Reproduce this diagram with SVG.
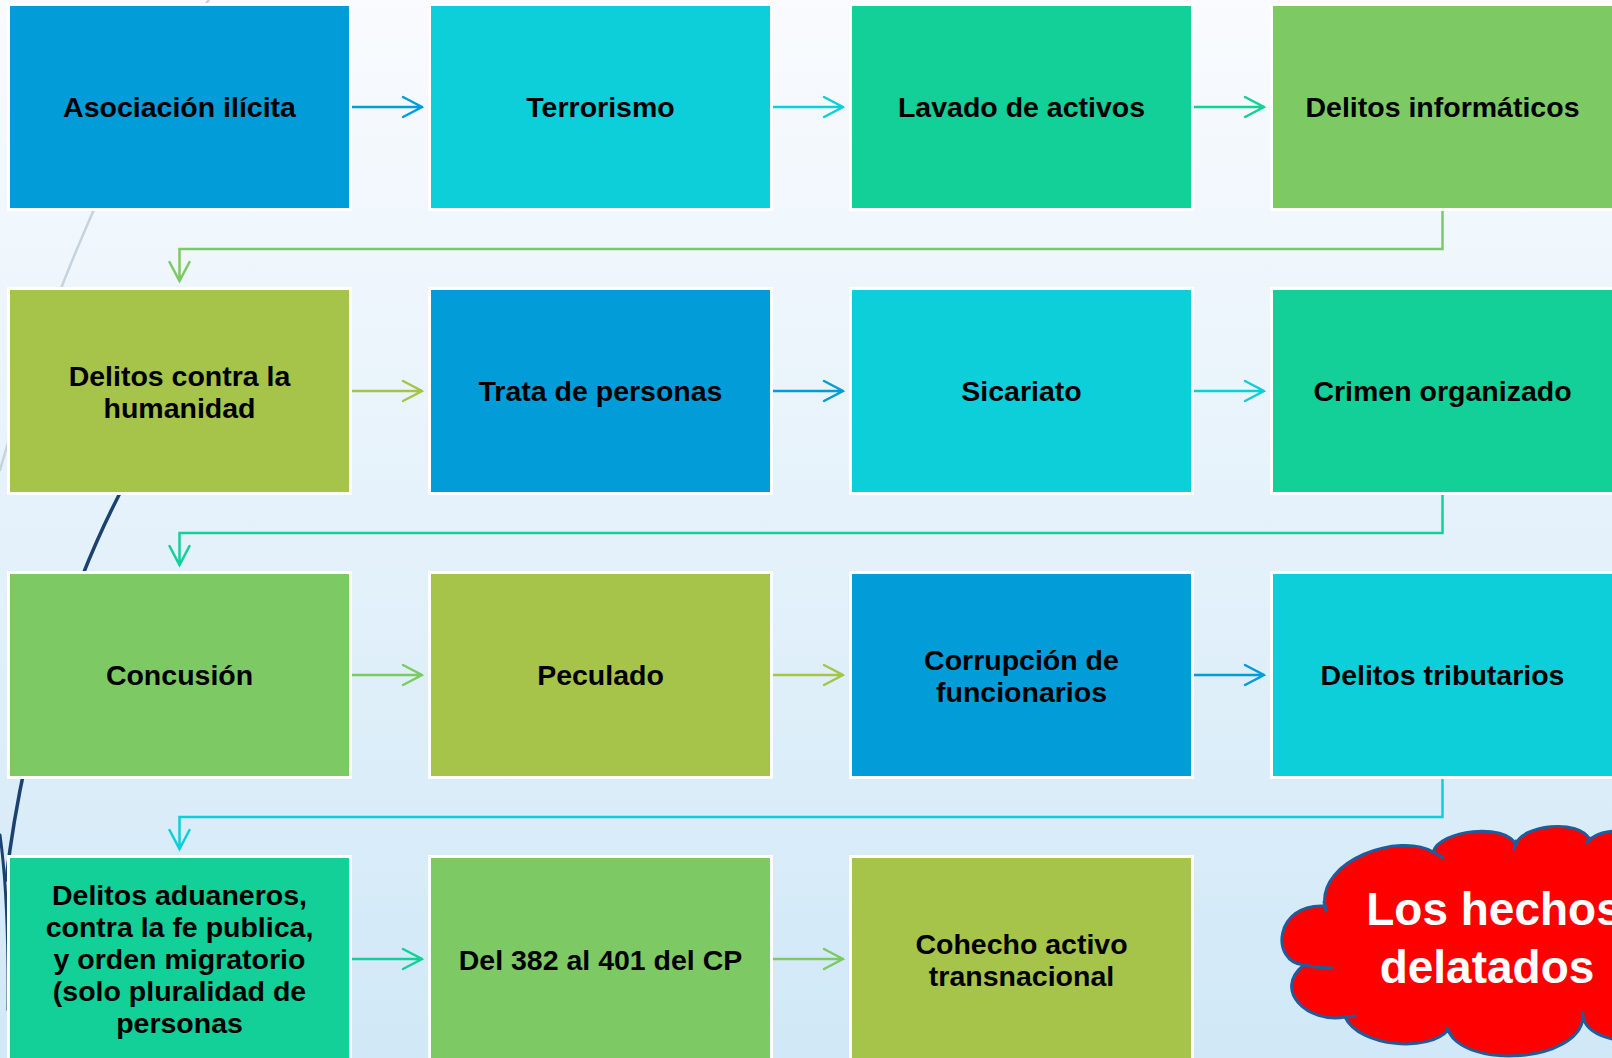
<svg xmlns="http://www.w3.org/2000/svg" width="1612" height="1058" viewBox="0 0 1612 1058">
  <defs>
    <linearGradient id="bg" x1="0" y1="0" x2="0" y2="1">
      <stop offset="0" stop-color="#F9FBFE"/>
      <stop offset="1" stop-color="#D0E8F7"/>
    </linearGradient>
    <style>
      .box { stroke: #FFFFFF; stroke-width: 3; }
      .blue { fill: #029CD8; }
      .cyan { fill: #0DCFDA; }
      .teal { fill: #13CF98; }
      .green { fill: #7DCA64; }
      .olive { fill: #A6C34A; }
      .lbl { font-family: "Liberation Sans", Arial, sans-serif; font-weight: bold; font-size: 28.5px; fill: #000000; text-anchor: middle; }
      .conn { fill: none; stroke-width: 2.5; stroke-linecap: round; stroke-linejoin: miter; }
      .s-blue { stroke: #029CD8; }
      .s-cyan { stroke: #0DCFDA; }
      .s-teal { stroke: #13CF98; }
      .s-green { stroke: #7DCA64; }
      .s-olive { stroke: #A6C34A; }
      .cloudtxt { font-family: "Liberation Sans", Arial, sans-serif; font-weight: bold; font-size: 46px; fill: #FFFFFF; text-anchor: middle; }
    </style>
  </defs>

  <rect x="0" y="0" width="1612" height="1058" fill="url(#bg)"/>

  <!-- decorative background curves -->
  <g id="decor" fill="none" stroke-linecap="round">
    <path d="M 210 -2 C 140 100, 60 260, 0 470" stroke="#C5D2DF" stroke-width="2.5"/>
    <path d="M 128 478 C 75 575, 25 720, 6 880" stroke="#1B416F" stroke-width="3.5"/>
    <path d="M 0 835 Q 9 900 8 1010" stroke="#1B416F" stroke-width="3"/>
  </g>

  <!-- connectors -->
  <g id="connectors" class="connectors">
    <!-- row 1 -->
    <path class="conn s-blue" d="M 352 107 H 422 M 403 97 L 422 107 L 403 117"/>
    <path class="conn s-cyan" d="M 773 107 H 843 M 824 97 L 843 107 L 824 117"/>
    <path class="conn s-teal" d="M 1194 107 H 1264 M 1245 97 L 1264 107 L 1245 117"/>
    <path class="conn s-green" d="M 1442.5 211 V 249 H 179.5 V 281 M 169.5 262 L 179.5 281 L 189.5 262"/>
    <!-- row 2 -->
    <path class="conn s-olive" d="M 352 391 H 422 M 403 381 L 422 391 L 403 401"/>
    <path class="conn s-blue" d="M 773 391 H 843 M 824 381 L 843 391 L 824 401"/>
    <path class="conn s-cyan" d="M 1194 391 H 1264 M 1245 381 L 1264 391 L 1245 401"/>
    <path class="conn s-teal" d="M 1442.5 495 V 533 H 179.5 V 565 M 169.5 546 L 179.5 565 L 189.5 546"/>
    <!-- row 3 -->
    <path class="conn s-green" d="M 352 675 H 422 M 403 665 L 422 675 L 403 685"/>
    <path class="conn s-olive" d="M 773 675 H 843 M 824 665 L 843 675 L 824 685"/>
    <path class="conn s-blue" d="M 1194 675 H 1264 M 1245 665 L 1264 675 L 1245 685"/>
    <path class="conn s-cyan" d="M 1442.5 779 V 817 H 179.5 V 849 M 169.5 830 L 179.5 849 L 189.5 830"/>
    <!-- row 4 -->
    <path class="conn s-teal" d="M 352 959 H 422 M 403 949 L 422 959 L 403 969"/>
    <path class="conn s-green" d="M 773 959 H 843 M 824 949 L 843 959 L 824 969"/>
  </g>

  <!-- row 1 -->
  <g id="n-asociacion"><rect class="box blue" x="8.5" y="4.5" width="342" height="205"/><text class="lbl" x="179.5" y="117">Asociación ilícita</text></g>
  <g id="n-terrorismo"><rect class="box cyan" x="429.5" y="4.5" width="342" height="205"/><text class="lbl" x="600.5" y="117">Terrorismo</text></g>
  <g id="n-lavado"><rect class="box teal" x="850.5" y="4.5" width="342" height="205"/><text class="lbl" x="1021.5" y="117">Lavado de activos</text></g>
  <g id="n-informaticos"><rect class="box green" x="1271.5" y="4.5" width="342" height="205"/><text class="lbl" x="1442.5" y="117">Delitos informáticos</text></g>

  <!-- row 2 -->
  <g id="n-humanidad"><rect class="box olive" x="8.5" y="288.5" width="342" height="205"/><text class="lbl" x="179.5" y="385.5">Delitos contra la</text><text class="lbl" x="179.5" y="417.5">humanidad</text></g>
  <g id="n-trata"><rect class="box blue" x="429.5" y="288.5" width="342" height="205"/><text class="lbl" x="600.5" y="401">Trata de personas</text></g>
  <g id="n-sicariato"><rect class="box cyan" x="850.5" y="288.5" width="342" height="205"/><text class="lbl" x="1021.5" y="401">Sicariato</text></g>
  <g id="n-crimen"><rect class="box teal" x="1271.5" y="288.5" width="342" height="205"/><text class="lbl" x="1442.5" y="401">Crimen organizado</text></g>

  <!-- row 3 -->
  <g id="n-concusion"><rect class="box green" x="8.5" y="572.5" width="342" height="205"/><text class="lbl" x="179.5" y="685">Concusión</text></g>
  <g id="n-peculado"><rect class="box olive" x="429.5" y="572.5" width="342" height="205"/><text class="lbl" x="600.5" y="685">Peculado</text></g>
  <g id="n-corrupcion"><rect class="box blue" x="850.5" y="572.5" width="342" height="205"/><text class="lbl" x="1021.5" y="669.5">Corrupción de</text><text class="lbl" x="1021.5" y="701.5">funcionarios</text></g>
  <g id="n-tributarios"><rect class="box cyan" x="1271.5" y="572.5" width="342" height="205"/><text class="lbl" x="1442.5" y="685">Delitos tributarios</text></g>

  <!-- row 4 -->
  <g id="n-aduaneros"><rect class="box teal" x="8.5" y="856.5" width="342" height="205"/>
    <text class="lbl" x="179.5" y="905">Delitos aduaneros,</text>
    <text class="lbl" x="179.5" y="937">contra la fe publica,</text>
    <text class="lbl" x="179.5" y="969">y orden migratorio</text>
    <text class="lbl" x="179.5" y="1001">(solo pluralidad de</text>
    <text class="lbl" x="179.5" y="1033">personas</text>
  </g>
  <g id="n-382"><rect class="box green" x="429.5" y="856.5" width="342" height="205"/><text class="lbl" x="600.5" y="969.5">Del 382 al 401 del CP</text></g>
  <g id="n-cohecho"><rect class="box olive" x="850.5" y="856.5" width="342" height="205"/><text class="lbl" x="1021.5" y="953.5">Cohecho activo</text><text class="lbl" x="1021.5" y="985.5">transnacional</text></g>

  <!-- cloud -->
  <g id="n-cloud">
    <path d="M 1325 906 C 1318 860, 1400 832, 1433 852 C 1440 830, 1505 822, 1516 845 C 1520 825, 1580 818, 1590 840 C 1600 828, 1640 825, 1660 850 L 1660 1040 C 1630 1045, 1590 1040, 1583 1018 C 1578 1062, 1465 1070, 1448 1030 C 1430 1052, 1360 1048, 1345 1017 C 1308 1024, 1272 990, 1304 965 C 1270 962, 1274 903, 1325 906 Z" fill="#FF0000" stroke="#1F5C99" stroke-width="3" stroke-linejoin="round"/>
    <g fill="none" stroke="#1F5C99" stroke-width="3" stroke-linecap="round">
      <path d="M 1433 852 Q 1438 854 1443 858"/>
      <path d="M 1516 841 Q 1515 845 1514 849"/>
      <path d="M 1590 838 Q 1588 840 1587 843"/>
      <path d="M 1324 902 Q 1325 906 1326 911"/>
      <path d="M 1304 965 Q 1316 968 1332 968"/>
      <path d="M 1345 1017 Q 1350 1017 1355 1016"/>
      <path d="M 1447 1028 Q 1450 1033 1453 1038"/>
      <path d="M 1583 1018 Q 1583 1016 1583 1013"/>
    </g>
    <text class="cloudtxt" x="1494" y="925">Los hechos</text>
    <text class="cloudtxt" x="1487" y="983">delatados</text>
  </g>
</svg>
